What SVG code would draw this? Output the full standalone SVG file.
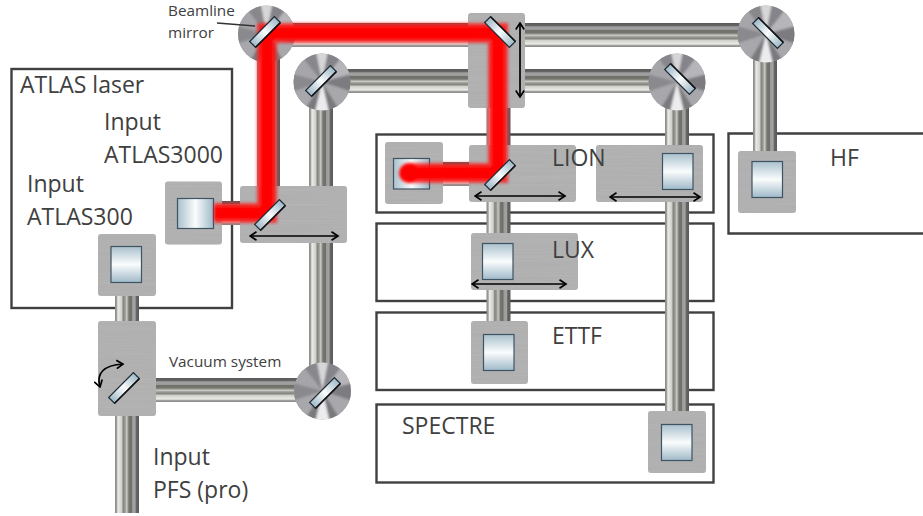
<svg xmlns="http://www.w3.org/2000/svg" width="923" height="516" viewBox="0 0 923 516">
<style>
.box{fill:#fff;stroke:#404040;stroke-width:2.4}
.sled{fill:#aeaeae;filter:url(#brushed)}
.t{font-family:"Open Sans","Noto Sans","Liberation Sans",sans-serif;fill:#404040}
.big{font-size:23px}
.sm{font-size:15.300px}
.win{stroke:#3f5463;stroke-width:1.2}
.mir{fill:url(#mg);stroke:#1c2a33;stroke-width:1.2}
.arr{fill:none;stroke:#000;stroke-width:1.700;marker-start:url(#hs);marker-end:url(#he)}
</style>
<defs>
<linearGradient id="ph" x1="0" y1="0" x2="0" y2="1">
<stop offset="0" stop-color="#5a5a5a"/><stop offset=".12" stop-color="#666"/><stop offset=".16" stop-color="#a2a2a2"/><stop offset=".27" stop-color="#9c9c9c"/><stop offset=".31" stop-color="#70706a"/><stop offset=".42" stop-color="#76766f"/><stop offset=".46" stop-color="#a0a09a"/><stop offset=".52" stop-color="#c8c8c2"/><stop offset=".58" stop-color="#9a9a94"/><stop offset=".66" stop-color="#84847e"/><stop offset=".72" stop-color="#d0d0ca"/><stop offset=".88" stop-color="#ecece6"/><stop offset=".93" stop-color="#a0a0a0"/><stop offset="1" stop-color="#8a8a8a"/>
</linearGradient>
<linearGradient id="pv" x1="0" y1="0" x2="1" y2="0">
<stop offset="0" stop-color="#8a8a8a"/><stop offset=".07" stop-color="#a0a0a0"/><stop offset=".12" stop-color="#ecece6"/><stop offset=".28" stop-color="#d0d0ca"/><stop offset=".34" stop-color="#84847e"/><stop offset=".42" stop-color="#9a9a94"/><stop offset=".48" stop-color="#c8c8c2"/><stop offset=".54" stop-color="#a0a09a"/><stop offset=".58" stop-color="#76766f"/><stop offset=".69" stop-color="#70706a"/><stop offset=".73" stop-color="#9c9c9c"/><stop offset=".84" stop-color="#a2a2a2"/><stop offset=".88" stop-color="#666"/><stop offset="1" stop-color="#5a5a5a"/>
</linearGradient>
<linearGradient id="wv" x1="0" y1="0" x2="0" y2="1">
<stop offset="0" stop-color="#a9c0cd"/><stop offset=".5" stop-color="#fafcfc"/><stop offset="1" stop-color="#9fb9c8"/>
</linearGradient>
<linearGradient id="wh" x1="0" y1="0" x2="1" y2="0">
<stop offset="0" stop-color="#a9c0cd"/><stop offset=".5" stop-color="#fafcfc"/><stop offset="1" stop-color="#9fb9c8"/>
</linearGradient>
<linearGradient id="mg" x1="0" y1="0" x2="1" y2="0">
<stop offset="0" stop-color="#9fb9c8"/><stop offset=".5" stop-color="#fafcfc"/><stop offset="1" stop-color="#9fb9c8"/>
</linearGradient>
<filter id="brushed" x="0" y="0" width="1" height="1">
<feTurbulence type="fractalNoise" baseFrequency="0.012 0.7" numOctaves="2" seed="4" result="n"/>
<feColorMatrix in="n" type="matrix" values="0 0 0 0 .5  0 0 0 0 .5  0 0 0 0 .5  .7 0 0 0 -.13" result="g"/>
<feComposite in="g" in2="SourceAlpha" operator="in" result="c"/>
<feMerge><feMergeNode in="SourceGraphic"/><feMergeNode in="c"/></feMerge>
</filter>
<filter id="soft" x="-10%" y="-10%" width="120%" height="120%"><feGaussianBlur stdDeviation="1.800"/></filter>
<filter id="fan" x="-5%" y="-5%" width="110%" height="110%"><feGaussianBlur stdDeviation="1.300"/></filter>
<clipPath id="dc"><circle cx="0" cy="0" r="28.500"/></clipPath>
<marker id="he" markerWidth="9" markerHeight="10" refX="7.500" refY="5" orient="auto" markerUnits="userSpaceOnUse"><path d="M1 .8L7.500 5L1 9.200" fill="none" stroke="#000" stroke-width="1.700"/></marker>
<marker id="hs" markerWidth="9" markerHeight="10" refX="1.500" refY="5" orient="auto" markerUnits="userSpaceOnUse"><path d="M8 .8L1.500 5L8 9.200" fill="none" stroke="#000" stroke-width="1.700"/></marker>
<g id="disc"><g clip-path="url(#dc)">
<circle r="29" fill="#9a9a9e"/>
<g filter="url(#fan)">
<path d="M0 0L-6 -30L6 -30Z" fill="#d6d6d8"/>
<path d="M0 0L6 -30L19 -24Z" fill="#84848a"/>
<path d="M0 0L-6 -30L-19 -24Z" fill="#88888c"/>
<path d="M0 0L19 -24L30 -8Z" fill="#b6b6ba"/>
<path d="M0 0L-19 -24L-30 -8Z" fill="#a6a6aa"/>
<path d="M0 0L30 -8L30 10Z" fill="#7c7c80"/>
<path d="M0 0L-30 -8L-30 10Z" fill="#8a8a8e"/>
<path d="M0 0L30 10L16 26Z" fill="#a8a8ac"/>
<path d="M0 0L-30 10L-16 26Z" fill="#a8a8ac"/>
<path d="M0 0L16 26L7 30Z" fill="#7a7a7e"/>
<path d="M0 0L-16 26L-7 30Z" fill="#7a7a7e"/>
<path d="M0 0L-7 30L7 30Z" fill="#ececee"/>
</g></g></g>
<g id="m"><rect class="mir" x="-17.500" y="-4.200" width="35" height="8.400"/><path d="M-17.500 4.200H17.500" stroke="#111" stroke-width="1.500"/></g>
</defs>
<g id="boxes">
<rect id="box-atlas" class="box" x="11.500" y="69" width="220.500" height="239"/>
<rect id="box-lion" class="box" x="376.500" y="134.500" width="337" height="78"/>
<rect id="box-lux" class="box" x="376.500" y="223.500" width="337" height="77.500"/>
<rect id="box-ettf" class="box" x="376.500" y="312.500" width="337" height="77.500"/>
<rect id="box-spectre" class="box" x="376.500" y="404.500" width="337" height="78"/>
<path id="box-hf" class="box" d="M926 133.500H728.500V233.500H926"/>
</g>
<g id="connectors">
<rect x="265" y="23" width="500" height="24" fill="url(#ph)"/>
<rect x="322" y="69" width="355" height="24" fill="url(#ph)"/>
<rect x="127" y="378" width="195" height="24" fill="url(#ph)"/>
<rect x="215" y="201" width="30" height="24" fill="url(#ph)"/>
<rect x="440" y="162" width="35" height="24" fill="url(#ph)"/>
<rect x="257" y="34" width="23" height="160" fill="url(#pv)"/>
<rect x="309" y="82" width="24" height="308" fill="url(#pv)"/>
<rect x="486.500" y="100" width="24" height="245" fill="url(#pv)"/>
<rect x="665" y="80" width="24" height="350" fill="url(#pv)"/>
<rect x="753" y="34" width="24" height="125" fill="url(#pv)"/>
<rect x="115" y="280" width="24" height="233" fill="url(#pv)"/>
</g>
<g id="sleds">
<rect id="sled-a" class="sled" x="165" y="181.500" width="57" height="63" rx="3"/>
<rect id="sled-b" class="sled" x="240" y="186" width="107" height="57" rx="3"/>
<rect id="sled-c" class="sled" x="98" y="234" width="58" height="62" rx="3"/>
<rect id="sled-d" class="sled" x="98" y="321" width="58" height="95" rx="3"/>
<rect id="sled-e" class="sled" x="468" y="13" width="57" height="95" rx="3"/>
<rect id="sled-f" class="sled" x="385" y="142" width="58" height="62" rx="3"/>
<rect id="sled-g" class="sled" x="469" y="145" width="107" height="57" rx="3"/>
<rect id="sled-h" class="sled" x="596" y="145" width="107" height="57" rx="3"/>
<rect id="sled-hf" class="sled" x="738" y="151" width="58" height="62" rx="3"/>
<rect id="sled-lux" class="sled" x="471" y="233" width="107" height="57" rx="3"/>
<rect id="sled-ettf" class="sled" x="471" y="321" width="57" height="63" rx="3"/>
<rect id="sled-spectre" class="sled" x="648" y="411" width="58" height="62" rx="3"/>
<rect class="win" fill="url(#wh)" x="177.500" y="198.500" width="36" height="30"/>
<rect class="win" fill="url(#wv)" x="111" y="246.500" width="30.500" height="36"/>
<rect class="win" fill="url(#wh)" x="393.500" y="158.500" width="36" height="30.500"/>
<rect class="win" fill="url(#wv)" x="662.500" y="153.500" width="30.500" height="36"/>
<rect class="win" fill="url(#wv)" x="752" y="161.500" width="30.500" height="36"/>
<rect class="win" fill="url(#wv)" x="482.500" y="243.500" width="30.500" height="36"/>
<rect class="win" fill="url(#wv)" x="483.500" y="334.500" width="30.500" height="36"/>
<rect class="win" fill="url(#wv)" x="661.500" y="424.500" width="30.500" height="36"/>
</g>
<g id="discs">
<use href="#disc" x="266.500" y="34"/>
<use href="#disc" x="322" y="82"/>
<use href="#disc" x="677" y="82"/>
<use href="#disc" x="766" y="34"/>
<use href="#disc" x="322.500" y="391"/>
</g>
<g id="beam" fill="none" stroke-linejoin="miter" filter="url(#soft)">
<path d="M214 213H267V33H498V173H409" stroke="#ff1a1a" stroke-width="20" opacity=".8"/>
<path d="M214 213H267V33H498V173H409" stroke="#ff0000" stroke-width="13"/>
<circle cx="409" cy="173" r="10" fill="#ff0000"/>
</g>
<g id="mirrors">
<use href="#m" transform="translate(265 32) rotate(-45)"/>
<use href="#m" transform="translate(321 81) rotate(-45)"/>
<use href="#m" transform="translate(270 215) rotate(-45)"/>
<use href="#m" transform="translate(500 32) rotate(-135)"/>
<use href="#m" transform="translate(500 175) rotate(-45)"/>
<use href="#m" transform="translate(680 79) rotate(-135)"/>
<use href="#m" transform="translate(768 33) rotate(-135)"/>
<use href="#m" transform="translate(124 388) rotate(-45)"/>
<use href="#m" transform="translate(325 393) rotate(-45)"/>
</g>
<g id="arrows">
<path class="arr" d="M250 236H338"/>
<path class="arr" d="M520 23V97"/>
<path class="arr" d="M475 196H565"/>
<path class="arr" d="M610 197H700"/>
<path class="arr" d="M472 284H566"/>
<path class="arr" d="M100 387Q94 366 123 364"/>
<path d="M217 23L255 26" stroke="#333" stroke-width="1.300" fill="none"/>
</g>
<g id="labels">
<text class="t big" x="20" y="93">ATLAS laser</text>
<text class="t big" x="104" y="130">Input</text>
<text class="t big" x="104" y="163">ATLAS3000</text>
<text class="t big" x="27" y="192">Input</text>
<text class="t big" x="27" y="225">ATLAS300</text>
<text class="t big" x="153" y="465">Input</text>
<text class="t big" x="153" y="498">PFS (pro)</text>
<text class="t big" x="552" y="166">LION</text>
<text class="t big" x="552" y="258">LUX</text>
<text class="t big" x="552" y="344">ETTF</text>
<text class="t big" x="402" y="434">SPECTRE</text>
<text class="t big" x="830" y="166">HF</text>
<text class="t sm" x="168" y="16">Beamline</text>
<text class="t sm" x="168" y="38">mirror</text>
<text class="t sm" x="169" y="367">Vacuum system</text>
</g>
</svg>
